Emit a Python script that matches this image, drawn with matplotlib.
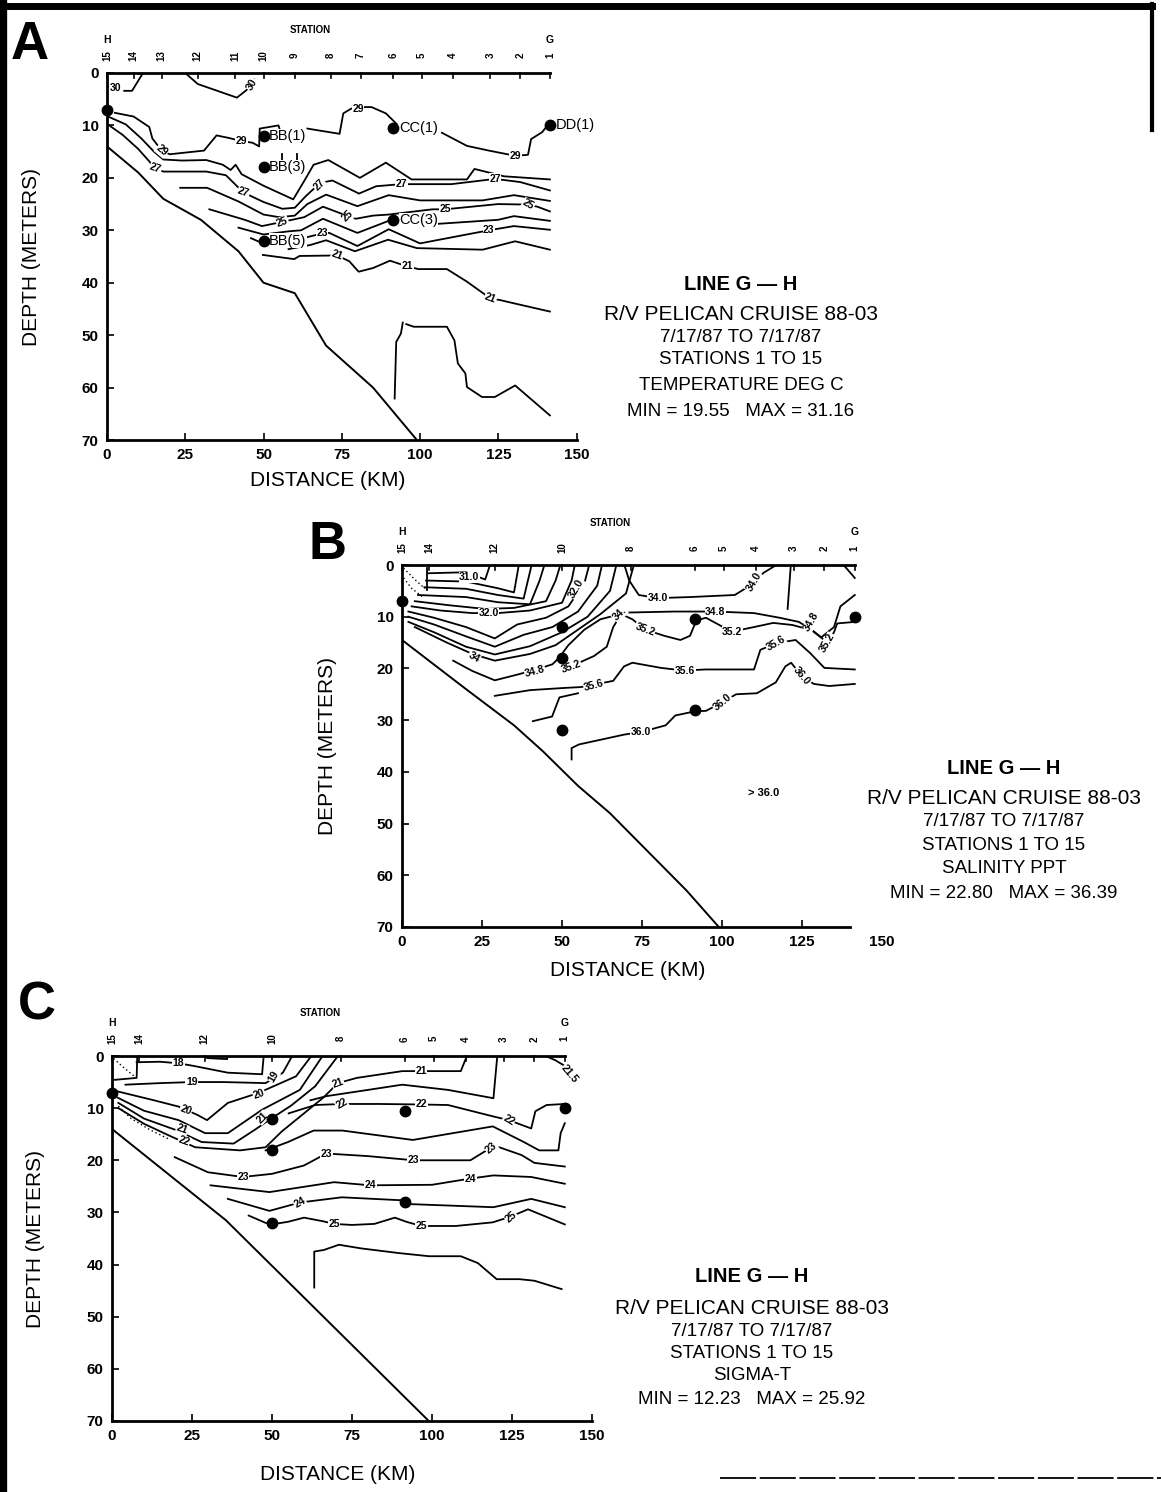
import matplotlib.pyplot as plt
from matplotlib.lines import Line2D

plt.rcParams['font.family'] = ['Liberation Sans', 'DejaVu Sans']

W, H = 1161, 1492

# stations along line G - H (km from station 15)
station_num = [15, 14, 13, 12, 11, 10, 9, 8, 7, 6, 5, 4, 3, 2, 1]
station_km = [0, 8.5, 17.5, 29, 41, 50, 60, 71.5, 81, 91.5, 100.5, 110.5, 122.5, 132, 141.5]
station_bc = [15, 14, 12, 10, 8, 6, 5, 4, 3, 2, 1]

# bottle samples
bottle_km = [0, 50, 50, 50, 91.5, 91.5, 141.5]
bottle_m = [7, 12, 18, 32, 10.5, 28, 10]
bottle_name = ['', 'BB(1)', 'BB(3)', 'BB(5)', 'CC(1)', 'CC(3)', 'DD(1)']

# ---------------- A: temperature ----------------
temp_bottom_km = [0, 10, 18, 30, 42, 50, 60, 70, 85, 99]
temp_bottom_m = [14, 19, 24, 28, 34, 40, 42, 52, 60, 70]
temp_lines = [
    ([0, 3], [2.6, 3.0]),
    ([5.5, 8, 11.5], [3.4, 3.4, 0]),
    ([25, 29, 41.5, 44.5, 47], [0, 2.1, 4.7, 3.3, 1.2]),
    ([2.5, 8.5, 13.5, 14.5, 17.5, 20, 31, 35, 39, 43, 46.5, 48.6, 48.8, 54.8, 55.3],
     [7.6, 8.3, 10.3, 12.5, 14.8, 15.5, 14.8, 11.9, 12.4, 13, 13.3, 14.0, 10.6, 10.0, 11]),
    ([64, 74.3, 75.5, 78, 82.5, 84.5, 89.1, 92.5],
     [10.6, 11.6, 7.7, 6.8, 6.5, 6.5, 7.7, 9.7]),
    ([107, 115, 122, 130.5, 134.5, 135.5, 139, 141],
     [11.4, 13.9, 14.8, 15.8, 15.6, 12.6, 11.3, 9.8]),
    ([0.7, 6, 11, 15, 18, 24, 31.7, 37, 39.5, 41.1, 43, 50, 59.5, 63, 66, 70.7,
      80.8, 89.1, 97.3, 115, 117.4, 126.8, 141.5],
     [8.4, 9.8, 12.5, 15, 16.5, 16.7, 16.6, 17.5, 18.5, 17.5, 19.3, 21.5, 24.1, 20.6,
      17.5, 16.6, 20, 17.1, 20.3, 20.3, 18.3, 19.7, 20.3]),
    ([0, 5, 10, 15.5, 18, 31.7, 38, 43.6, 50, 56, 60, 63.5, 68, 72, 80.5, 86, 94, 110,
      124, 132, 141.5],
     [9.7, 11.8, 14.5, 18.2, 18.8, 18.8, 19.5, 22.8, 24.6, 25.9, 25.7, 23.5, 21.0, 20.5,
      23, 21.6, 21.2, 21.2, 20.2, 20.8, 22.4]),
    ([23.4, 32, 42, 50, 55, 60, 64, 70, 80, 90, 100, 120, 130, 141.5],
     [21.9, 21.9, 24.5, 27, 27.5, 27.2, 25, 23.2, 25.4, 23.3, 24.3, 24.3, 23.3, 24.4]),
    ([32.7, 44, 49.5, 56, 63, 69, 77, 79.5, 85, 90, 104, 108, 125, 134.6, 137.5, 141.5],
     [26, 28, 29.2, 28.4, 27.5, 25.5, 27.3, 27.8, 27.2, 27, 26, 26, 25, 25.1, 25.5, 26.4]),
    ([42, 50, 58, 62, 69, 80, 90, 100, 125, 130, 141.5],
     [29.5, 30.8, 30.2, 30, 27.8, 30.5, 28.2, 29, 28, 27.3, 28.2]),
    ([46, 49], [31.5, 32.3]),
    ([62, 68.7, 71, 80, 90, 100, 122, 130, 141.5],
     [31.6, 30.6, 30.5, 33, 29.8, 32.5, 30, 29.2, 29.9]),
    ([58, 65, 70, 79.2, 89.8, 99, 120, 130.4, 141.5],
     [33.6, 32.8, 31.9, 34, 31.8, 33.4, 33.7, 32.1, 33.7]),
    ([49.8, 59.8, 61.5, 73.5, 77.4, 80.4, 85, 90.4, 96, 99.5, 108.6, 115, 122.5, 125.5,
      129.8, 141.5],
     [34.7, 35.5, 34.9, 34.8, 35.9, 37.9, 37.2, 35.8, 36.9, 37.4, 37.4, 39.8, 43, 43.3,
      43.9, 45.5]),
    ([91.9, 92.4, 93.9, 94.5], [62.1, 51.3, 49.7, 47.6]),
    ([95.6, 98, 108.6, 111, 112.1, 114.5, 115, 119.8, 123.9, 130.4, 141.5],
     [47.9, 48.4, 48.4, 51, 55.4, 57.3, 59.9, 61.8, 61.8, 59.6, 65.3]),
    ([56, 56], [15.5, 17.2]),
    ([60.7, 60.7], [15.5, 17.2]),
]
temp_labels = [
    ('30', 2.6, 2.8, 0), ('30', 46.3, 2.2, 60),
    ('29', 17.5, 14.8, -40), ('29', 43, 13, 0), ('29', 80.2, 6.8, 0), ('29', 130.5, 15.8, 0),
    ('27', 15.5, 18.2, -20), ('27', 43.6, 22.8, -20), ('27', 68, 21.4, 45),
    ('27', 94, 21.2, 0), ('27', 124, 20.2, 0),
    ('25', 56, 28.4, 20), ('25', 77, 27.3, 45), ('25', 108, 26, 0), ('25', 134.6, 25.1, -30),
    ('23', 68.7, 30.6, 0), ('23', 122, 30, 0),
    ('21', 73.5, 34.8, -20), ('21', 96, 36.9, 0), ('21', 122.5, 43, -20),
]

# ---------------- B: salinity ----------------
salt_bottom_km = [0, 20, 35, 44, 55, 65, 89, 99]
salt_bottom_m = [14.5, 24, 31, 36, 42.7, 48, 63, 70]
salt_lines = [
    ([7.7, 7.7], [0.6, 4.8]),
    ([8, 20, 26, 27.5], [1.6, 1.4, 2.8, 0]),
    ([7.5, 20, 30, 35, 36.5], [3.0, 3.2, 4.5, 5.3, 0]),
    ([7, 20, 30, 38, 40.5], [4.3, 4.6, 5.8, 6.5, 0]),
    ([5, 20, 30, 40, 43, 44.5], [5.8, 6.2, 7.2, 7.6, 3, 0]),
    ([4, 15, 26, 35, 45, 48, 49.5], [7, 7.8, 8.5, 8.3, 7, 3, 0]),
    ([3, 12, 22, 30, 40, 50, 53, 54], [8, 8.8, 9.3, 9.3, 8.8, 7.3, 3, 0]),
    ([2, 10, 20, 29, 36, 45, 52, 57, 58.5], [9, 10.2, 12, 14.2, 11.5, 10.2, 8, 3.5, 0]),
    ([2, 10, 20, 29, 38, 47, 55, 61, 62.5], [10, 11.5, 13.8, 15.8, 13.5, 12, 9, 4, 0]),
    ([2, 10, 20, 29, 40, 50, 58, 65, 67], [11, 13, 15.8, 17.3, 15.7, 13, 10, 5, 0]),
    ([4, 14, 22, 29, 40, 48, 55, 62, 70, 72, 72.5],
     [12, 15, 17.2, 18.5, 17.2, 15.5, 12.5, 9.5, 5.5, 1, 0]),
    ([69.5, 71, 74, 80, 90, 104, 110, 113, 117], [0, 3, 5.8, 6.4, 6.2, 5.8, 3.5, 1.5, 0]),
    ([121.5, 120.5], [0, 8.5]),
    ([138, 141.5], [0, 2.5]),
    ([16, 22, 29, 36, 42, 47, 49, 52, 57, 62, 70, 85, 98, 110, 118, 124, 128, 131, 135, 137,
      141.5],
     [18.5, 20.5, 22.3, 21.2, 20.2, 19.2, 18, 15.5, 12.5, 10.5, 9.2, 9, 9, 9.3, 10.2, 11,
      12.5, 14, 12, 8, 5.8]),
    ([52.8, 60, 64, 66, 68.5, 72, 76, 82, 87, 90, 92, 95, 103, 110, 116, 122, 128, 133,
      135, 136, 141.5],
     [19.6, 17.6, 15.8, 12, 9.5, 10.5, 12.5, 13.7, 14.5, 13.7, 10.7, 10.2, 12.9, 12, 11.2,
      11.6, 12.6, 15, 13, 11.3, 11]),
    ([29, 40, 50, 56, 62, 66, 69.4, 72, 81, 88, 95, 110, 112, 117, 123, 127.5, 132, 141.5],
     [25.3, 24.2, 23.8, 23.6, 22.9, 22.4, 19.6, 18.9, 19.9, 20.4, 20.2, 20.2, 16.4, 15.1,
      14.5, 17, 19.9, 20.2]),
    ([40.9, 46.9, 49.2, 55], [30.2, 29.3, 25.6, 24.8]),
    ([53, 53, 55.3, 69.4, 74.7, 82.4, 85.4, 91.5, 95, 100, 104.4, 110.9, 116.8, 119.8,
      121.6, 125, 128.7, 133.5, 141.5],
     [37.6, 35.4, 34.7, 32.8, 32.3, 31, 29.1, 28.3, 28.2, 26.6, 25, 24.8, 22.7, 19.6, 18.9,
      21.5, 23, 23.4, 23]),
]
salt_dotted = [([0.5, 4, 7.2], [0.6, 2.8, 4.6]), ([0.5, 3, 6.5], [2.5, 4.5, 6.2])]
salt_labels = [
    ('31.0', 21, 2.4, 0), ('32.0', 27, 9.3, 0), ('32.0', 54.5, 4.6, 60), ('34', 22.5, 17.8, -30),
    ('34.8', 41.5, 20.5, 15), ('35.2', 52.8, 19.6, 20), ('35.6', 60, 23.3, 15),
    ('35.6', 88.4, 20.5, 0), ('35.6', 116.8, 15.1, 30), ('36.0', 74.7, 32.3, 0),
    ('36.0', 100.2, 26.6, 40), ('36.0', 125, 21.5, -50), ('34.0', 80, 6.4, 0),
    ('34.0', 110, 3.3, 60), ('34.8', 97.9, 9, 0), ('34.8', 128, 11, 60),
    ('35.2', 75.9, 12.5, -20), ('35.2', 103.2, 12.9, 0), ('35.2', 132.9, 15.1, 60),
    ('34.', 68, 9.5, 45),
]

# ---------------- C: sigma-t ----------------
sig_bottom_km = [0, 35.6, 99]
sig_bottom_m = [14, 31.5, 70]
sig_lines = [
    ([0.3, 7.7, 7.9], [4.6, 4.2, 0]),
    ([7.7, 15, 20.8, 25.5, 36.2, 46.9, 47.4], [1.2, 1.1, 1.4, 1.9, 3.2, 3.5, 0]),
    ([29.5, 29.7, 36, 36], [0, 0.4, 0.6, 0]),
    ([4.2, 15, 24.9, 35, 48, 53.4, 56.3], [5.5, 5.2, 5, 5, 5.2, 3.2, 0]),
    ([1.8, 12.5, 20.8, 26.7, 29.7, 36.2, 45.7, 57.5, 62.3], [6.8, 8.4, 9.7, 11.3, 12.3, 9, 7.1, 3.9, 0]),
    ([1.8, 10, 20.8, 29.1, 36.2, 46.9, 58.7, 65.8], [8, 10.5, 12.3, 14.8, 14.8, 10.3, 6.5, 0]),
    ([2, 10, 20, 28, 38, 45, 49, 56, 63.5, 70.6], [9, 12, 14.2, 16.5, 16.8, 14, 12.3, 9.5, 5.8, 0]),
    ([2, 10, 18, 26, 40, 48, 53, 60, 66, 70.6, 76.5, 90.7, 109, 110.9],
     [10, 13, 15.3, 17.5, 18.1, 17.5, 14.5, 11, 8, 5.2, 4.2, 2.9, 2.9, 0]),
    ([135.5, 138.5, 141.5], [0, 0.8, 1.9]),
    ([62, 67, 80, 90.7, 105, 119.2, 120.4], [8.5, 7.7, 6.5, 5.5, 6.5, 8.1, 0]),
    ([55.2, 63.5, 71.8, 83.6, 96.7, 105, 119.2, 124, 131, 132.3, 135.8, 141.5],
     [11, 9.4, 9.2, 9.2, 9.3, 9.4, 11.6, 12.3, 13.9, 10.6, 9.4, 9.2]),
    ([48, 55, 63, 72, 94, 119, 128.7, 133.5, 139.5, 140.2, 141.5],
     [18.1, 16.5, 14.3, 14.3, 16.1, 13.5, 16.5, 18.1, 18.1, 14.8, 12.9]),
    ([19.6, 30, 40.9, 50, 60, 67, 80, 94.3, 112, 116.5, 121, 128, 132, 141.5],
     [19.4, 22.3, 23.2, 22.6, 21, 18.7, 19.2, 20, 20, 18.3, 17.5, 19, 20.5, 21.2]),
    ([30.8, 49.2, 69.4, 80.7, 100, 112, 119.2, 131, 141.5],
     [24.8, 26.1, 24.2, 24.8, 24.7, 23.5, 22.9, 23.2, 24.5]),
    ([36.2, 49.2, 58.7, 71.8, 91.5, 93, 119.2, 131, 141.5],
     [27.4, 29.7, 28.1, 27.1, 27.7, 28.4, 29, 27.4, 29]),
    ([42.7, 48, 49.8, 55, 60, 66, 69.4, 75, 82, 88.4, 92, 96.7, 107.4, 119, 124.6, 130, 141.5],
     [30.6, 32, 32.3, 31.8, 31, 31.7, 32.2, 32.4, 32.2, 31, 31.8, 32.6, 32.6, 31.9, 30.8,
      29.4, 32.3]),
    ([63.2, 63.2, 66.2, 70.9, 77.9, 89.7, 99.1, 109, 114.3, 120.2, 127.3, 132, 140.5],
     [44.4, 37.5, 37.2, 36.2, 36.9, 37.8, 38.4, 38.4, 39.7, 42.8, 42.8, 43.1, 44.7]),
]
sig_dotted = [([0.5, 4, 7.2], [0.5, 2.4, 4.0]), ([2, 6, 12, 18], [9.6, 12, 14.2, 16])]
sig_labels = [
    ('18', 20.8, 1.4, 0), ('19', 24.9, 5, 0), ('19', 50.4, 3.9, 60), ('20', 23.1, 10.3, -20),
    ('20', 46, 7.4, 20), ('21', 47, 11.8, 45), ('21', 22, 14, -20), ('22', 22.5, 16.3, -20),
    ('21', 70.6, 5.2, 20), ('21', 96.6, 2.9, 0), ('21.5', 143, 3.5, -50),
    ('22', 71.8, 9.2, 30), ('22', 96.7, 9.3, 0), ('22', 124, 12.3, -30),
    ('23', 40.9, 23.2, 0), ('23', 67, 18.7, 0), ('23', 94.3, 20, 0), ('23', 118.6, 17.7, 40),
    ('24', 80.7, 24.8, 0), ('24', 112, 23.5, 0), ('24', 58.7, 28.1, 30),
    ('25', 69.4, 32.2, 0), ('25', 96.7, 32.6, 0), ('25', 124.6, 30.8, 40),
]

info_common = ['R/V PELICAN CRUISE 88-03', '7/17/87 TO 7/17/87', 'STATIONS 1 TO 15']

fig = plt.figure(figsize=(W / 100, H / 100), dpi=100)


def make_axes(x0, y0, y70, px_km):
    ax = fig.add_axes([x0 / W, 1 - y70 / H, 150 * px_km / W, (y70 - y0) / H])
    ax.set_xlim(0, 150)
    ax.set_ylim(70, 0)
    return ax


def panel(ax, lines, labels, bot_km, bot_m, stations, xend, ylab_x, xlab_y, bottles_named,
          dotted=()):
    for s in ['top', 'right']:
        ax.spines[s].set_visible(False)
    for s in ['left', 'bottom']:
        ax.spines[s].set_linewidth(2)
    ax.spines['bottom'].set_bounds(0, xend)
    ax.set_xticks([0, 25, 50, 75, 100, 125, 150])
    ax.set_yticks(range(0, 80, 10))
    ax.tick_params(direction='in', length=5, width=1.2, labelsize=11, pad=6)
    for t in ax.get_xticklabels() + ax.get_yticklabels():
        t.set_fontweight('bold')
    if xend < 150:
        ax.xaxis.get_major_ticks()[-1].tick1line.set_visible(False)
    ax.set_ylabel('DEPTH (METERS)', fontsize=15)
    ax.set_xlabel('DISTANCE (KM)', fontsize=15)
    ax.yaxis.set_label_coords(ylab_x, 0.5)
    ax.xaxis.set_label_coords(0.47, xlab_y)

    # top axis with station ticks
    ax.plot([0, 141.5], [0, 0], color='k', lw=2, clip_on=False)
    for n, km in zip(station_num, station_km):
        if n not in stations:
            continue
        ax.plot([km, km], [0, 1.0], color='k', lw=1.2, clip_on=False)
        ax.text(km, -3.3, str(n), rotation=90, fontsize=7, fontweight='bold',
                ha='center', va='center')
    ax.text(0, -6.3, 'H', fontsize=7.5, fontweight='bold', ha='center', va='center')
    ax.text(141.5, -6.3, 'G', fontsize=7.5, fontweight='bold', ha='center', va='center')
    ax.text(65, -8.2, 'STATION', fontsize=7, fontweight='bold', ha='center', va='center')

    ax.plot(bot_km, bot_m, color='k', lw=1.4)
    for xs, ys in lines:
        ax.plot(xs, ys, color='k', lw=1.3)
    for xs, ys in dotted:
        ax.plot(xs, ys, color='k', lw=1.0, ls=(0, (1, 2)))
    for s, km, m, rot in labels:
        ax.text(km, m, s, fontsize=7.5, fontweight='bold', rotation=rot, ha='center',
                va='center', clip_on=False, zorder=3,
                bbox=dict(fc='white', ec='none', pad=0.4))
    ax.plot(bottle_km, bottle_m, 'o', color='k', ms=7.5, zorder=4, clip_on=False)
    if bottles_named:
        for km, m, name in zip(bottle_km, bottle_m, bottle_name):
            if name:
                ax.text(km + 1.8, m, name, fontsize=10.5, ha='left', va='center', zorder=3,
                        bbox=dict(fc='white', ec='none', pad=0.2))


def info(xc, ys, var_line, minmax):
    texts = ['LINE G \u2014 H'] + info_common + [var_line, minmax]
    sizes = [14.5, 15, 13.5, 13.5, 13.5, 13.5]
    for i, (t, y, fs) in enumerate(zip(texts, ys, sizes)):
        fig.text(xc / W, 1 - y / H, t, fontsize=fs, ha='center', va='center',
                 fontweight='bold' if i == 0 else 'normal')


axA = make_axes(107, 73, 440, 3.13)
panel(axA, temp_lines, temp_labels, temp_bottom_km, temp_bottom_m, station_num, 150,
      -0.14, -0.085, True)
info(741, [285, 315, 338, 360, 385, 412], 'TEMPERATURE DEG C', 'MIN = 19.55   MAX = 31.16')

axB = make_axes(402, 565, 927, 3.2)
panel(axB, salt_lines, salt_labels, salt_bottom_km, salt_bottom_m, station_bc, 140,
      -0.135, -0.095, False, salt_dotted)
axB.text(113, 44, '> 36.0', fontsize=8, fontweight='bold', ha='center', va='center')
info(1004, [768, 798, 822, 845, 868, 893], 'SALINITY PPT', 'MIN = 22.80   MAX = 36.39')

axC = make_axes(112, 1056, 1421, 3.2)
panel(axC, sig_lines, sig_labels, sig_bottom_km, sig_bottom_m, station_bc, 150,
      -0.14, -0.12, False, sig_dotted)
info(752, [1277, 1308, 1332, 1353, 1375, 1400], 'SIGMA-T', 'MIN = 12.23   MAX = 25.92')

# panel letters
for s, x, y in [('A', 30, 45), ('B', 327, 545), ('C', 37, 1005)]:
    fig.text(x / W, 1 - y / H, s, fontsize=38, fontweight='bold', ha='center', va='center')

# page frame
fig.add_artist(Line2D([3 / W, 3 / W], [0, 1], lw=6, color='k', transform=fig.transFigure))
fig.add_artist(Line2D([0, 1152 / W], [1 - 6 / H] * 2, lw=5, color='k', transform=fig.transFigure))
fig.add_artist(Line2D([1152 / W] * 2, [1 - 4 / H, 1 - 130 / H], lw=3, color='k',
                      transform=fig.transFigure))
fig.add_artist(Line2D([720 / W, 1], [1 - 1478 / H] * 2, lw=1.3, color='k', ls=(0, (20, 2)),
                      transform=fig.transFigure))

fig.savefig('out.png', dpi=100)
